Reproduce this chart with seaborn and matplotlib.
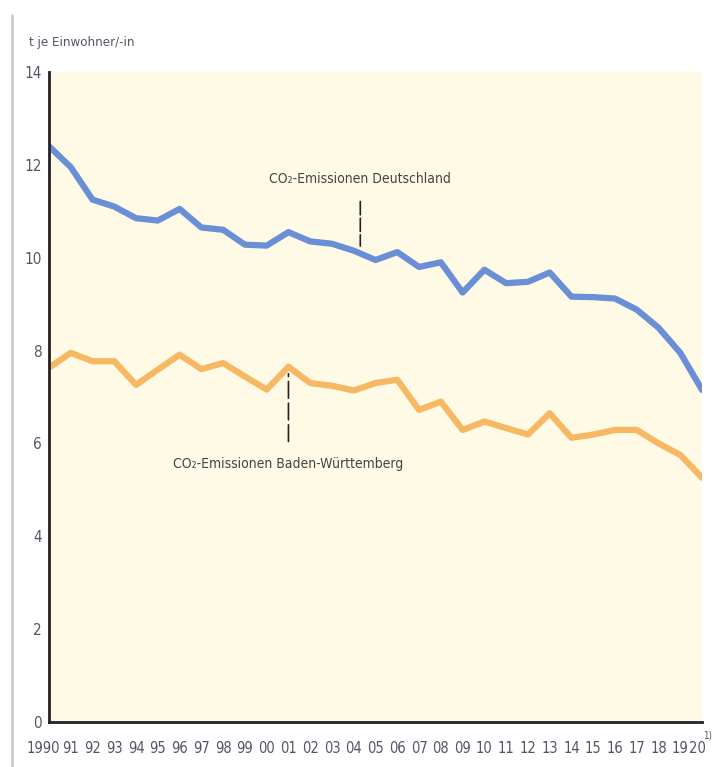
import pandas as pd
import matplotlib.pyplot as plt
import matplotlib.transforms as mtransforms
import seaborn as sns

sns.set_style("white")
plt.rcParams['font.family'] = ['DejaVu Sans']
plt.rcParams['font.stretch'] = 'condensed'

# Daten (t CO2 je Einwohner/-in)
jahre = list(range(1990, 2021))
co2_de = [12.4, 11.95, 11.25, 11.1, 10.85, 10.8, 11.05, 10.65, 10.6, 10.28, 10.26,
          10.55, 10.35, 10.3, 10.15, 9.95, 10.12, 9.8, 9.9, 9.25, 9.74, 9.45,
          9.48, 9.68, 9.16, 9.15, 9.12, 8.88, 8.49, 7.95, 7.15]
co2_bw = [7.63, 7.95, 7.77, 7.77, 7.26, 7.59, 7.91, 7.6, 7.73, 7.44, 7.16,
          7.65, 7.3, 7.24, 7.14, 7.3, 7.37, 6.72, 6.9, 6.29, 6.47, 6.33,
          6.19, 6.65, 6.12, 6.19, 6.29, 6.29, 6.0, 5.75, 5.26]
xlabels = ['1990'] + [f"{j % 100:02d}" for j in jahre[1:]]

df = pd.DataFrame({'jahr': jahre, 'de': co2_de, 'bw': co2_bw})

fig = plt.figure(figsize=(7.13, 7.67), dpi=100)
ax = fig.add_axes([0.0687, 0.0587, 0.916, 0.8475])
ax.set_facecolor('#FFFAE6')

sns.lineplot(data=df, x='jahr', y='de', ax=ax, color='#6A8FD6', linewidth=4.5)
sns.lineplot(data=df, x='jahr', y='bw', ax=ax, color='#F6B862', linewidth=4.5)

ax.set_xlim(1990, 2020)
ax.set_ylim(0, 14)
ax.set_xticks(jahre)
ax.set_xticklabels(xlabels)
ax.set_yticks(range(0, 15, 2))
ax.set_xlabel('')
ax.set_ylabel('')

for s in ['top', 'right']:
    ax.spines[s].set_visible(False)
for s in ['left', 'bottom']:
    ax.spines[s].set_color('#222222')
    ax.spines[s].set_linewidth(2)

ax.tick_params(axis='x', direction='in', length=9, width=1.5, color='#222222',
               labelsize=10.5, labelcolor='#555566', pad=14)
ax.tick_params(axis='y', direction='in', length=5, width=1.5, color='#222222',
               labelsize=11, labelcolor='#555566', pad=5)
ax.grid(False)
for lab in ax.get_xticklabels() + ax.get_yticklabels():
    lab.set_fontstretch('condensed')

# 1990 etwas nach links, 20 etwas nach links (Platz für Fußnote)
xl = ax.get_xticklabels()
xl[0].set_transform(xl[0].get_transform() + mtransforms.ScaledTranslation(-6 / 100, 0, fig.dpi_scale_trans))
xl[-1].set_transform(xl[-1].get_transform() + mtransforms.ScaledTranslation(-5 / 100, 0, fig.dpi_scale_trans))

# Fußnotenzeichen am letzten Jahr
fig.text(0.999, 0.034, '1)', fontsize=7, color='#555566', ha='right', va='bottom')

# Beschriftungen mit Hinweislinien
ax.annotate('CO₂-Emissionen Deutschland', xy=(2004.3, 10.25), xytext=(2004.3, 11.7),
            ha='center', va='center', fontsize=10, color='#444444',
            arrowprops=dict(arrowstyle='-', color='#222222', lw=1.2, linestyle=(0, (8, 2)),
                            shrinkA=9, shrinkB=0))
ax.annotate('CO₂-Emissionen Baden-Württemberg', xy=(2001, 7.5), xytext=(2001, 5.55),
            ha='center', va='center', fontsize=10, color='#444444',
            arrowprops=dict(arrowstyle='-', color='#222222', lw=1.2, linestyle=(0, (10, 3)),
                            shrinkA=9, shrinkB=0))

fig.text(0.041, 0.944, 't je Einwohner/-in', fontsize=9.5, color='#555566',
         ha='left', va='center')
fig.add_artist(plt.Line2D([0.017, 0.017], [0.0, 0.98], color='#CCCCCC', lw=2,
                          transform=fig.transFigure))

fig.savefig('out.png', dpi=100)
